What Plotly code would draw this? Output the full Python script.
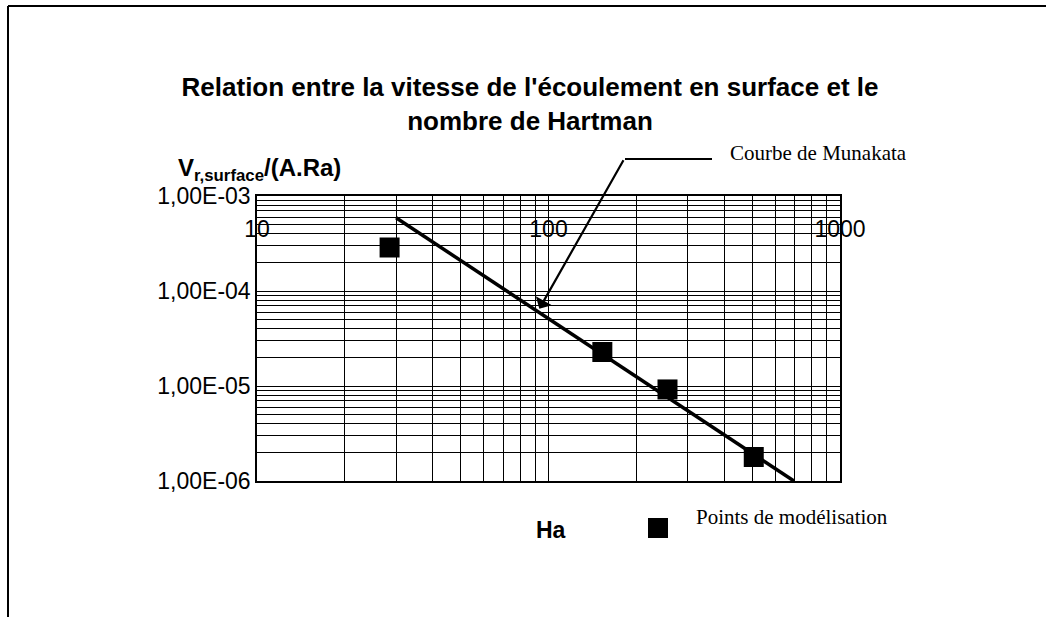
import math
import plotly.graph_objects as go

# Modelled points: Hartmann number vs normalised surface velocity
ha_points = [28.5, 153, 256, 506]
v_points = [2.87e-4, 2.28e-5, 9.2e-6, 1.79e-6]

# Munakata curve (straight line on log-log axes)
ha_munakata = [30, 695]
v_munakata = [5.9e-4, 1.0e-6]

# Axis ticks
x_ticks = [10, 100, 1000]
x_ticktext = ["10", "100", "1000"]
y_ticks = [1e-6, 1e-5, 1e-4, 1e-3]
y_ticktext = ["1,00E-06", "1,00E-05", "1,00E-04", "1,00E-03"]

# Arrow tip pointing to the Munakata curve
arrow_ha = 93
arrow_v = 6.5e-5

x_minor = [m * 10 ** e for e in (1, 2) for m in range(2, 10)]
y_minor = [m * 10.0 ** e for e in (-6, -5, -4) for m in range(2, 10)]

W, H = 1046, 617
L, R, T, B = 257, 206, 196, 136
PW, PH = W - L - R, H - T - B


def px(x):
    return (x - L) / PW


def py(y):
    return (H - B - y) / PH


fig = go.Figure()

fig.add_trace(go.Scatter(
    x=ha_munakata, y=v_munakata, mode="lines",
    line=dict(color="black", width=3.5),
    name="Courbe de Munakata", showlegend=False,
))
fig.add_trace(go.Scatter(
    x=ha_points, y=v_points, mode="markers",
    marker=dict(symbol="square", size=20, color="black"),
    name="Points de modélisation", showlegend=False,
))

grid = "black"
fig.update_xaxes(
    type="log", range=[1, 3], side="top",
    tickvals=x_ticks, ticktext=x_ticktext,
    ticklabelposition="inside", ticklabelstandoff=27, ticklabeloverflow="allow",
    ticks="", showline=True, mirror=True, linecolor="black", linewidth=1.5,
    showgrid=True, gridcolor=grid, gridwidth=1.3,
    minor=dict(tickvals=x_minor, showgrid=True, gridcolor=grid, gridwidth=1.1),
    tickfont=dict(family="Liberation Sans, Arial", size=23, color="black"),
    zeroline=False,
)
fig.update_yaxes(
    type="log", range=[-6, -3],
    tickvals=y_ticks, ticktext=y_ticktext,
    ticks="", showline=True, mirror=True, linecolor="black", linewidth=1.5,
    showgrid=True, gridcolor=grid, gridwidth=1.3,
    minor=dict(tickvals=y_minor, showgrid=True, gridcolor=grid, gridwidth=1.1),
    tickfont=dict(family="Liberation Sans, Arial", size=23, color="black"),
    zeroline=False,
)

sans = "Liberation Sans, Arial"
serif = "Liberation Serif, Times New Roman"

annotations = [
    # y-axis title
    dict(text="<b>V<sub>r,surface</sub>/(A.Ra)</b>", xref="paper", yref="paper",
         x=px(176), y=py(170), xanchor="left", yanchor="middle", showarrow=False,
         font=dict(family=sans, size=24, color="black")),
    # x-axis title
    dict(text="<b>Ha</b>", xref="paper", yref="paper",
         x=px(551), y=py(530), xanchor="center", yanchor="middle", showarrow=False,
         font=dict(family=sans, size=23, color="black")),
    # series key text
    dict(text="Points de modélisation", xref="paper", yref="paper",
         x=px(694), y=py(517), xanchor="left", yanchor="middle", showarrow=False,
         font=dict(family=serif, size=21, color="black")),
    # callout label for the curve
    dict(text="Courbe de Munakata", xref="paper", yref="paper",
         x=px(728), y=py(153), xanchor="left", yanchor="middle", showarrow=False,
         font=dict(family=serif, size=21, color="black")),
    # arrow from the callout to the curve
    dict(text="", xref="x", yref="y",
         x=math.log10(arrow_ha), y=math.log10(arrow_v),
         axref="pixel", ayref="pixel", ax=85, ay=-150,
         showarrow=True, arrowhead=1, arrowsize=1.4, arrowwidth=2.2,
         arrowcolor="black"),
]

shapes = [
    # callout leader
    dict(type="line", xref="paper", yref="paper",
         x0=px(625), y0=py(159), x1=px(712), y1=py(159),
         line=dict(color="black", width=2.2)),
    # series key marker
    dict(type="rect", xref="paper", yref="paper",
         x0=px(648), x1=px(668), y0=py(538), y1=py(518),
         fillcolor="black", line=dict(color="black", width=0)),
    # page frame (top and left edges)
    dict(type="line", xref="paper", yref="paper",
         x0=px(8), y0=py(6), x1=px(1046), y1=py(6),
         line=dict(color="black", width=2)),
    dict(type="line", xref="paper", yref="paper",
         x0=px(8), y0=py(6), x1=px(8), y1=py(617),
         line=dict(color="black", width=2)),
]

fig.update_layout(
    width=W, height=H,
    margin=dict(l=L, r=R, t=T, b=B),
    paper_bgcolor="white", plot_bgcolor="white",
    title=dict(
        text="<b>Relation entre la vitesse de l'écoulement en surface et le<br>nombre de Hartman</b>",
        x=530 / W, xref="container", xanchor="center",
        y=1 - 96 / H, yref="container", yanchor="top",
        font=dict(family=sans, size=26, color="black"),
    ),
    annotations=annotations,
    shapes=shapes,
    showlegend=False,
)

fig.write_html("out.html")
